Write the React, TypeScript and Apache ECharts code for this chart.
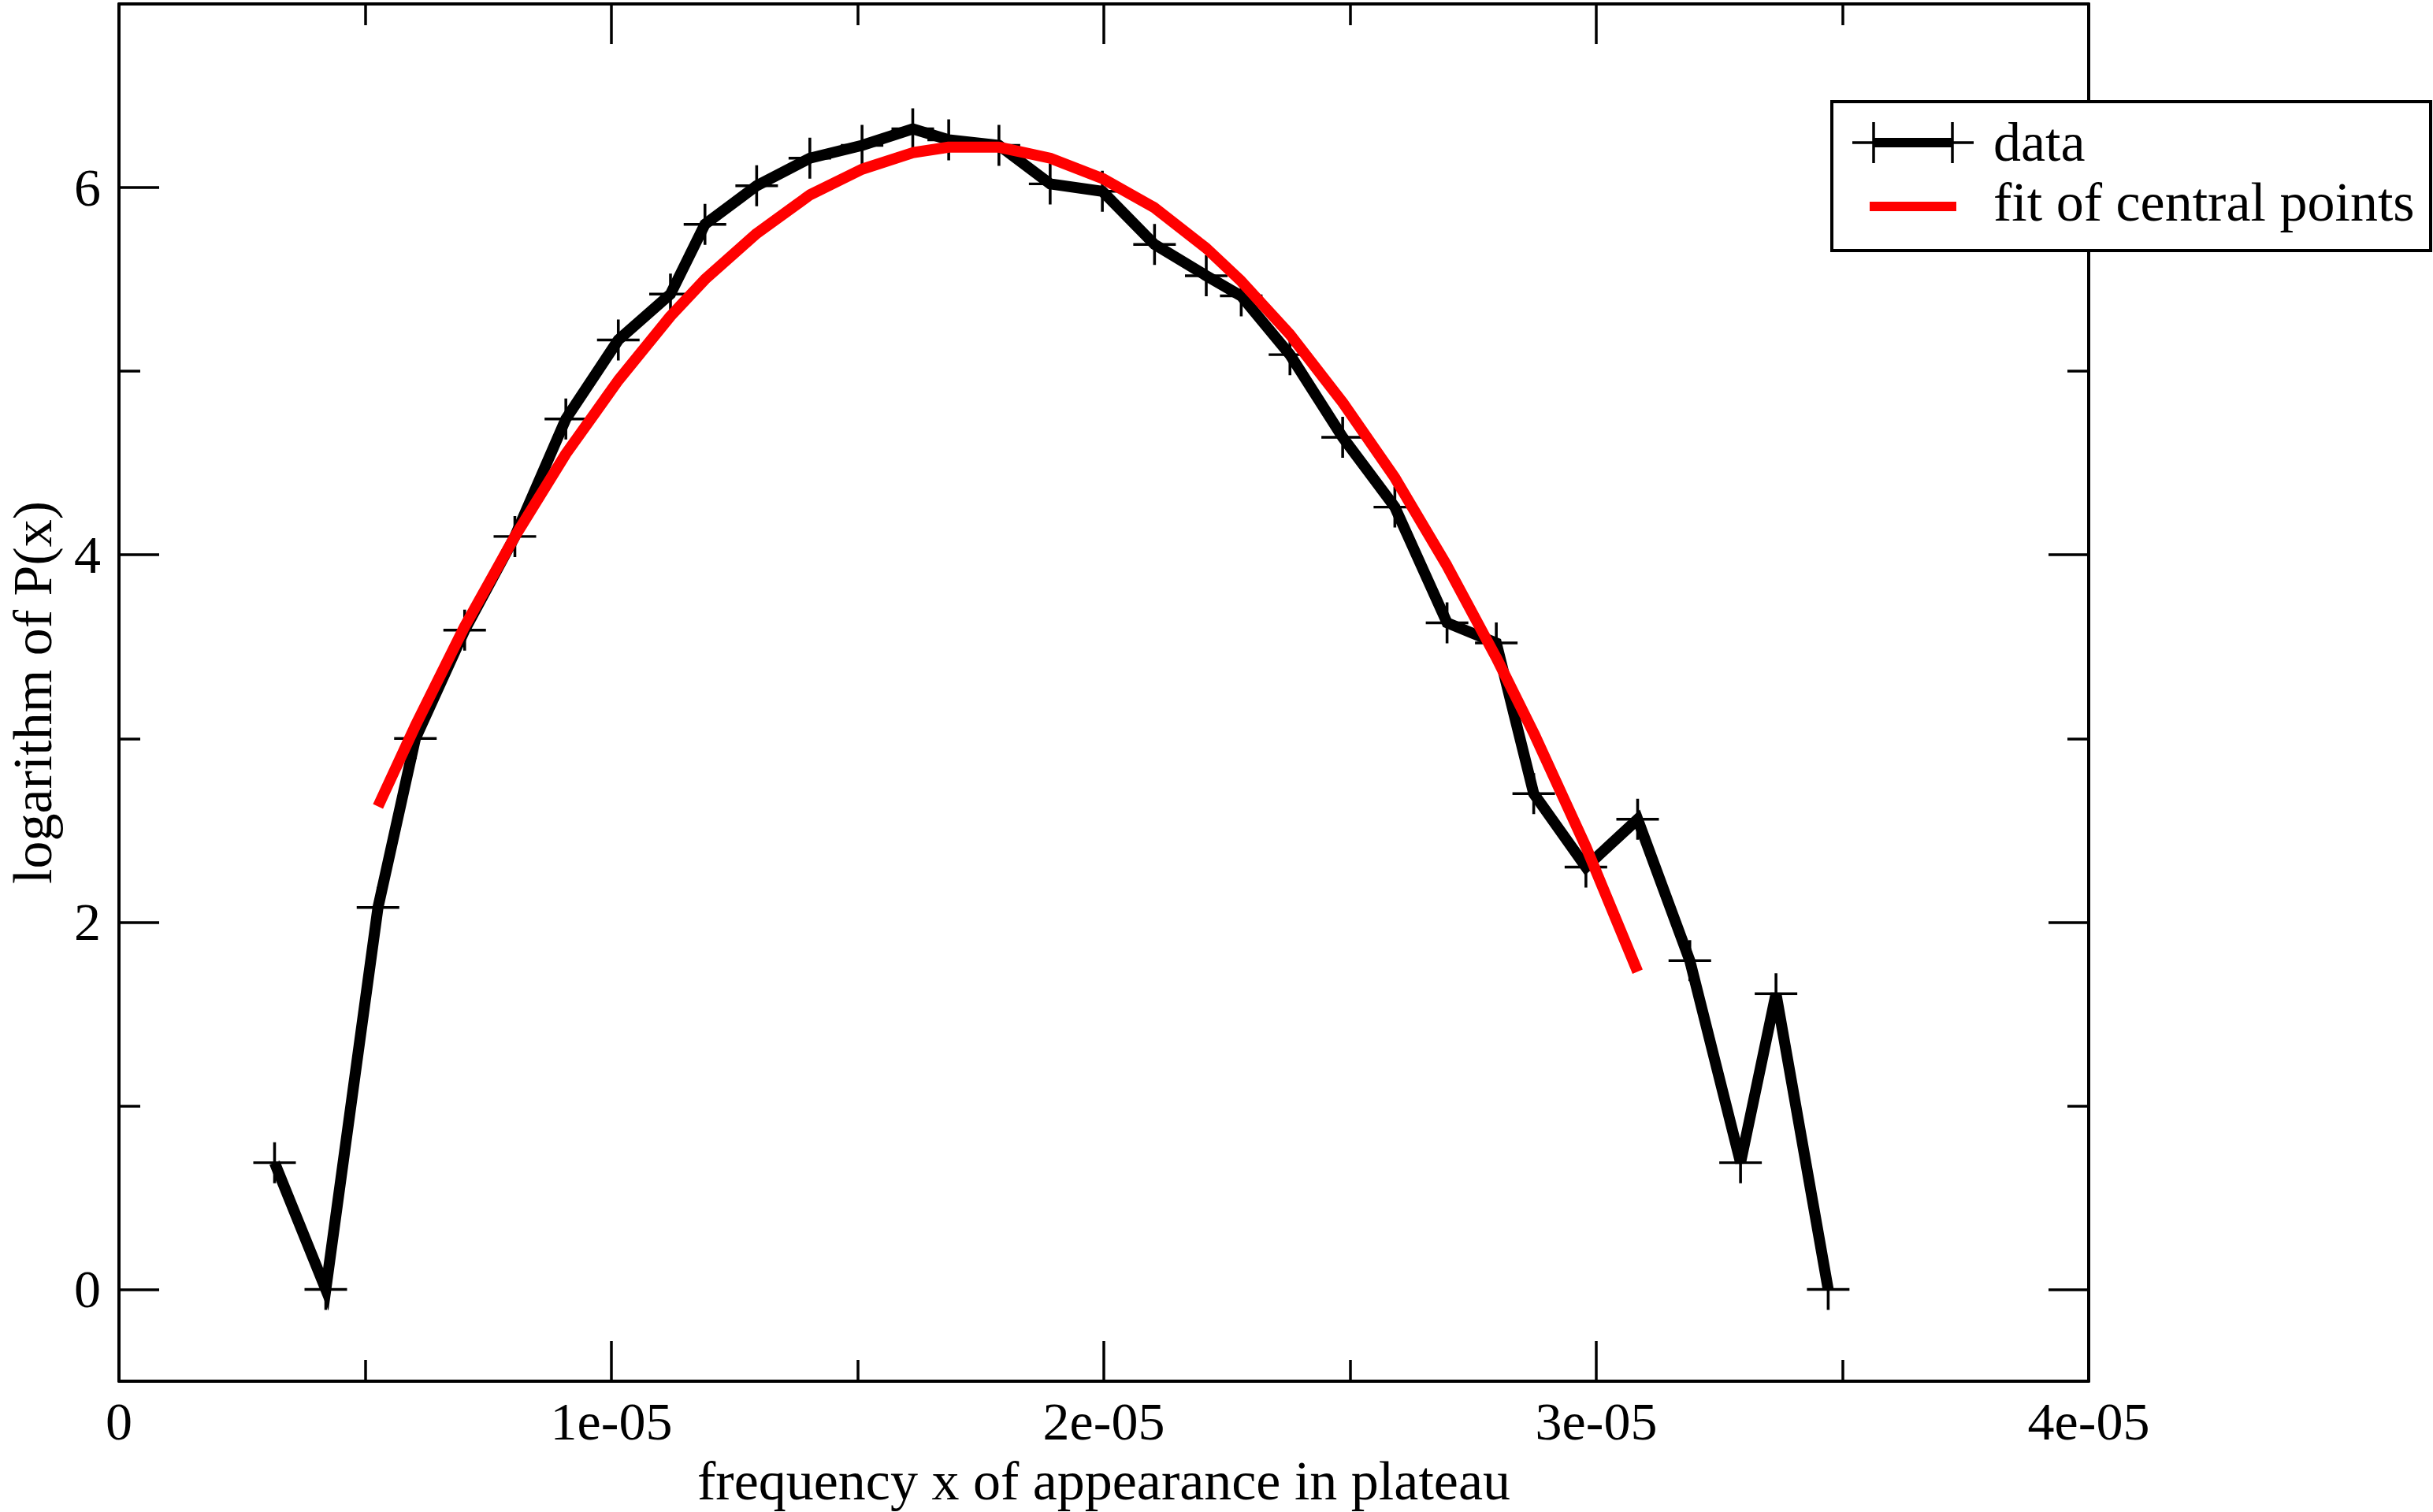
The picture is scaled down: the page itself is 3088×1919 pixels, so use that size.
import React, { useEffect, useRef } from "react";
import * as echarts from "echarts";

// x values (frequency), y values (log P(x))
const dataX: number[] = [
  0.316e-5, 0.42e-5, 0.526e-5, 0.602e-5, 0.702e-5, 0.804e-5, 0.9075e-5, 1.014e-5, 1.12e-5, 1.19e-5,
  1.295e-5, 1.403e-5, 1.509e-5, 1.612e-5, 1.685e-5, 1.787e-5, 1.891e-5, 1.997e-5, 2.103e-5, 2.208e-5,
  2.279e-5, 2.378e-5, 2.485e-5, 2.591e-5, 2.697e-5, 2.797e-5, 2.873e-5, 2.979e-5, 3.084e-5, 3.19e-5,
  3.293e-5, 3.365e-5, 3.471e-5,
];
const dataY: number[] = [
  0.69, 0.0, 2.08, 3.0, 3.59, 4.1, 4.74, 5.17, 5.42, 5.8,
  6.01, 6.16, 6.23, 6.32, 6.26, 6.23, 6.02, 5.98, 5.69, 5.52,
  5.41, 5.09, 4.64, 4.26, 3.63, 3.52, 2.7, 2.3, 2.56, 1.79,
  0.69, 1.61, 0.0,
];
const fitX: number[] = [
  0.526e-5, 0.602e-5, 0.702e-5, 0.804e-5, 0.9075e-5, 1.014e-5, 1.12e-5, 1.19e-5, 1.295e-5, 1.403e-5,
  1.509e-5, 1.612e-5, 1.685e-5, 1.787e-5, 1.891e-5, 1.997e-5, 2.103e-5, 2.208e-5, 2.279e-5, 2.378e-5,
  2.485e-5, 2.591e-5, 2.697e-5, 2.797e-5, 2.873e-5, 2.979e-5, 3.084e-5,
];
const fitY: number[] = [
  2.63, 3.07, 3.61, 4.1, 4.55, 4.95, 5.3, 5.5, 5.75, 5.96,
  6.1, 6.19, 6.22, 6.22, 6.16, 6.05, 5.89, 5.67, 5.49, 5.2,
  4.83, 4.42, 3.94, 3.44, 3.03, 2.41, 1.73,
];
const majorY: number[] = [0, 2, 4, 6];
const minorY: number[] = [1, 3, 5];
const seriesNames: string[] = ["data", "fit of central points"];
const xTitle = "frequency x of appearance in plateau";
const yTitle = "logarithm of P(x)";

const FONT = "'Liberation Serif', 'Times New Roman', serif";
const FS = 68;
const FT = 70;

function xLabel(v: number): string {
  if (Math.abs(v) < 1e-12) return "0";
  return `${Math.round(v / 1e-5)}e-05`;
}

export default function App() {
  const ref = useRef<HTMLDivElement>(null);
  useEffect(() => {
    document.body.style.margin = "0";
    const chart = echarts.init(ref.current!, undefined, { renderer: "svg" });
    const tickStyle = { color: "#000", width: 3.5 };
    const lineOn = { show: true, onZero: false, lineStyle: { color: "#000", width: 4 } };
    const lineOff = { show: false, onZero: false };
    const baseY = {
      type: "value",
      min: -0.5,
      max: 7,
      splitLine: { show: false },
      axisLabel: { show: false },
      axisLine: lineOff,
      axisTick: { show: false },
    };
    const baseX = {
      type: "value",
      min: 0,
      max: 4e-5,
      interval: 1e-5,
      splitLine: { show: false },
      minorSplitLine: { show: false },
    };
    const cross = "path://M10,0L10,20M0,10L20,10";
    const legendStroke = (x1: number, y1: number, x2: number, y2: number, color: string, w: number) => ({
      type: "line",
      z: 101,
      shape: { x1, y1, x2, y2 },
      style: { stroke: color, lineWidth: w },
    });
    const option: any = {
      animation: false,
      backgroundColor: "#fff",
      grid: {
        left: 151,
        top: 5,
        width: 2500,
        height: 1748,
        containLabel: false,
        outerBoundsMode: "none",
      },
      xAxis: [
        {
          ...baseX,
          position: "bottom",
          axisLine: lineOn,
          axisTick: { show: true, inside: true, length: 51, lineStyle: tickStyle },
          minorTick: { show: true, splitNumber: 2, length: 27, lineStyle: tickStyle },
          axisLabel: {
            show: true,
            margin: 17,
            formatter: xLabel,
            fontFamily: FONT,
            fontSize: FS,
            color: "#000",
            showMinLabel: true,
            showMaxLabel: true,
          },
          name: xTitle,
          nameLocation: "middle",
          nameGap: 91,
          nameTextStyle: { fontFamily: FONT, fontSize: FT, color: "#000" },
        },
        {
          ...baseX,
          position: "top",
          axisLine: lineOn,
          axisTick: { show: true, inside: true, length: 51, lineStyle: tickStyle },
          minorTick: { show: true, splitNumber: 2, length: 27, lineStyle: tickStyle },
          axisLabel: { show: false },
        },
      ],
      yAxis: [
        {
          ...baseY,
          position: "left",
          axisLine: lineOn,
          axisTick: { show: true, inside: true, length: 51, lineStyle: tickStyle, customValues: majorY },
          axisLabel: {
            show: true,
            customValues: majorY,
            margin: 23,
            fontFamily: FONT,
            fontSize: FS,
            color: "#000",
          },
          name: yTitle,
          nameLocation: "middle",
          nameGap: 75,
          nameRotate: 90,
          nameTextStyle: { fontFamily: FONT, fontSize: FT, color: "#000" },
        },
        {
          ...baseY,
          position: "left",
          axisTick: { show: true, inside: true, length: 27, lineStyle: tickStyle, customValues: minorY },
        },
        {
          ...baseY,
          position: "right",
          axisLine: lineOn,
          axisTick: { show: true, inside: true, length: 51, lineStyle: tickStyle, customValues: majorY },
        },
        {
          ...baseY,
          position: "right",
          axisTick: { show: true, inside: true, length: 27, lineStyle: tickStyle, customValues: minorY },
        },
      ],
      series: [
        {
          name: seriesNames[0],
          type: "line",
          xAxisIndex: 0,
          yAxisIndex: 0,
          data: dataX.map((x, i) => [x, dataY[i]]),
          lineStyle: { color: "#000", width: 14, join: "miter" },
          symbol: cross,
          symbolSize: [54, 52],
          symbolKeepAspect: false,
          itemStyle: { color: "rgba(0,0,0,0)", borderColor: "#000", borderWidth: 3.5 },
          showAllSymbol: true,
          silent: true,
          z: 3,
        },
        {
          name: seriesNames[1],
          type: "line",
          xAxisIndex: 0,
          yAxisIndex: 0,
          data: fitX.map((x, i) => [x, fitY[i]]),
          lineStyle: { color: "#ff0000", width: 14 },
          showSymbol: false,
          symbol: "none",
          silent: true,
          z: 4,
        },
      ],
      graphic: [
        {
          type: "rect",
          z: 100,
          shape: { x: 2325, y: 129, width: 760, height: 189 },
          style: { fill: "#fff", stroke: "#000", lineWidth: 4 },
        },
        legendStroke(2378, 181, 2478, 181, "#000", 12),
        legendStroke(2351, 181, 2405, 181, "#000", 3.5),
        legendStroke(2378, 155, 2378, 207, "#000", 3.5),
        legendStroke(2451, 181, 2505, 181, "#000", 3.5),
        legendStroke(2478, 155, 2478, 207, "#000", 3.5),
        legendStroke(2373, 262, 2483, 262, "#ff0000", 12),
        {
          type: "text",
          z: 101,
          x: 2530,
          y: 180,
          style: {
            text: seriesNames[0],
            fontFamily: FONT,
            fontSize: FT,
            fill: "#000",
            verticalAlign: "middle",
            align: "left",
          },
        },
        {
          type: "text",
          z: 101,
          x: 2530,
          y: 256,
          style: {
            text: seriesNames[1],
            fontFamily: FONT,
            fontSize: FT,
            fill: "#000",
            verticalAlign: "middle",
            align: "left",
          },
        },
      ],
    };
    chart.setOption(option);
    return () => chart.dispose();
  }, []);
  return (
    <div
      ref={ref}
      style={{ position: "absolute", left: 0, top: 0, width: 3088, height: 1919, background: "#fff" }}
    />
  );
}
